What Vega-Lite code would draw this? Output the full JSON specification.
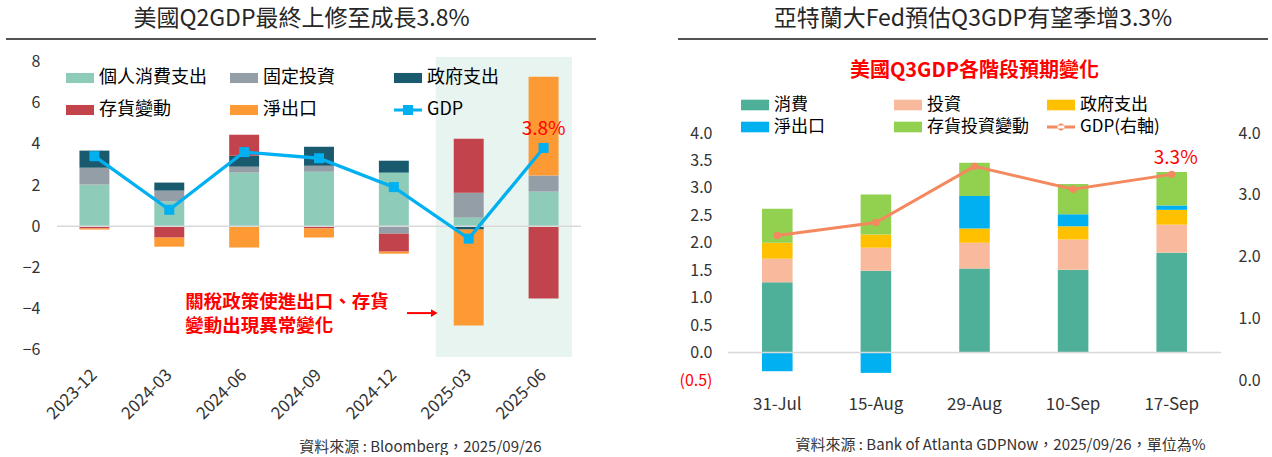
{
  "$schema": "https://vega.github.io/schema/vega-lite/v6.json",
  "background": "white",
  "padding": {"left": 5, "top": 8, "right": 0, "bottom": 0},
  "datasets": {
    "L": [
      {"q": "2023-12", "k": "個人消費支出", "v": 2.02}, {"q": "2023-12", "k": "固定投資", "v": 0.82}, {"q": "2023-12", "k": "政府支出", "v": 0.83}, {"q": "2023-12", "k": "存貨變動", "v": -0.11}, {"q": "2023-12", "k": "淨出口", "v": -0.05},
      {"q": "2024-03", "k": "個人消費支出", "v": 1.2}, {"q": "2024-03", "k": "固定投資", "v": 0.53}, {"q": "2024-03", "k": "政府支出", "v": 0.39}, {"q": "2024-03", "k": "存貨變動", "v": -0.55}, {"q": "2024-03", "k": "淨出口", "v": -0.44},
      {"q": "2024-06", "k": "個人消費支出", "v": 2.6}, {"q": "2024-06", "k": "固定投資", "v": 0.29}, {"q": "2024-06", "k": "政府支出", "v": 0.53}, {"q": "2024-06", "k": "存貨變動", "v": 1.02}, {"q": "2024-06", "k": "淨出口", "v": -1.03},
      {"q": "2024-09", "k": "個人消費支出", "v": 2.65}, {"q": "2024-09", "k": "固定投資", "v": 0.29}, {"q": "2024-09", "k": "政府支出", "v": 0.92}, {"q": "2024-09", "k": "存貨變動", "v": -0.11}, {"q": "2024-09", "k": "淨出口", "v": -0.44},
      {"q": "2024-12", "k": "個人消費支出", "v": 2.6}, {"q": "2024-12", "k": "固定投資", "v": -0.36}, {"q": "2024-12", "k": "政府支出", "v": 0.58}, {"q": "2024-12", "k": "存貨變動", "v": -0.87}, {"q": "2024-12", "k": "淨出口", "v": -0.1},
      {"q": "2025-03", "k": "個人消費支出", "v": 0.42}, {"q": "2025-03", "k": "固定投資", "v": 1.21}, {"q": "2025-03", "k": "政府支出", "v": -0.16}, {"q": "2025-03", "k": "存貨變動", "v": 2.62}, {"q": "2025-03", "k": "淨出口", "v": -4.65},
      {"q": "2025-06", "k": "個人消費支出", "v": 1.68}, {"q": "2025-06", "k": "固定投資", "v": 0.78}, {"q": "2025-06", "k": "政府支出", "v": 0.0}, {"q": "2025-06", "k": "存貨變動", "v": -3.5}, {"q": "2025-06", "k": "淨出口", "v": 4.79}
    ],
    "Lg": [
      {"q": "2023-12", "GDP": 3.4}, {"q": "2024-03", "GDP": 0.8}, {"q": "2024-06", "GDP": 3.6}, {"q": "2024-09", "GDP": 3.3},
      {"q": "2024-12", "GDP": 1.9}, {"q": "2025-03", "GDP": -0.6}, {"q": "2025-06", "GDP": 3.8}
    ],
    "R": [
      {"d": "31-Jul", "k": "消費", "v": 1.28}, {"d": "31-Jul", "k": "投資", "v": 0.43}, {"d": "31-Jul", "k": "政府支出", "v": 0.29}, {"d": "31-Jul", "k": "淨出口", "v": -0.34}, {"d": "31-Jul", "k": "存貨投資變動", "v": 0.62},
      {"d": "15-Aug", "k": "消費", "v": 1.49}, {"d": "15-Aug", "k": "投資", "v": 0.42}, {"d": "15-Aug", "k": "政府支出", "v": 0.24}, {"d": "15-Aug", "k": "淨出口", "v": -0.37}, {"d": "15-Aug", "k": "存貨投資變動", "v": 0.73},
      {"d": "29-Aug", "k": "消費", "v": 1.53}, {"d": "29-Aug", "k": "投資", "v": 0.47}, {"d": "29-Aug", "k": "政府支出", "v": 0.26}, {"d": "29-Aug", "k": "淨出口", "v": 0.59}, {"d": "29-Aug", "k": "存貨投資變動", "v": 0.61},
      {"d": "10-Sep", "k": "消費", "v": 1.51}, {"d": "10-Sep", "k": "投資", "v": 0.55}, {"d": "10-Sep", "k": "政府支出", "v": 0.24}, {"d": "10-Sep", "k": "淨出口", "v": 0.22}, {"d": "10-Sep", "k": "存貨投資變動", "v": 0.55},
      {"d": "17-Sep", "k": "消費", "v": 1.82}, {"d": "17-Sep", "k": "投資", "v": 0.51}, {"d": "17-Sep", "k": "政府支出", "v": 0.27}, {"d": "17-Sep", "k": "淨出口", "v": 0.08}, {"d": "17-Sep", "k": "存貨投資變動", "v": 0.61}
    ],
    "Rg": [
      {"d": "31-Jul", "GDP": 2.34}, {"d": "15-Aug", "GDP": 2.55}, {"d": "29-Aug", "GDP": 3.46}, {"d": "10-Sep", "GDP": 3.09}, {"d": "17-Sep", "GDP": 3.33}
    ]
  },
  "resolve": {"scale": {"color": "independent"}, "legend": {"color": "independent"}},
  "hconcat": [
    {
      "spacing": 13,
      "vconcat": [
        {
          "width": 539,
          "height": 1,
          "title": {"text": "美國Q2GDP最終上修至成長3.8%", "fontSize": 23, "fontWeight": "normal", "color": "#262626", "offset": 7, "dx": -25},
          "data": {"values": [{}]},
          "mark": {"type": "rule", "color": "#1a1a1a", "strokeWidth": 1.3},
          "encoding": {
            "x": {"datum": -51, "scale": {"domain": [0, 539], "nice": false}, "axis": null},
            "x2": {"datum": 539},
            "y": {"datum": 1, "scale": {"domain": [0, 1]}, "axis": null}
          }
        },
        {
          "width": 524,
          "height": 300,
          "layer": [
            {
              "data": {"values": [{}]},
              "mark": {"type": "rect", "color": "#e8f4ef"},
              "encoding": {
                "x": {"datum": "2025-03", "bandPosition": -0.6},
                "x2": {"datum": "2025-06", "bandPosition": 1.45},
                "y": {"datum": 8.21},
                "y2": {"datum": -6.34}
              }
            },
            {
              "data": {"name": "L"},
              "transform": [{"calculate": "indexof(['個人消費支出','固定投資','政府支出','存貨變動','淨出口'], datum.k)", "as": "o"}],
              "mark": {"type": "bar"},
              "encoding": {
                "x": {
                  "field": "q", "type": "nominal",
                  "scale": {"type": "band", "domain": ["2023-12", "2024-03", "2024-06", "2024-09", "2024-12", "2025-03", "2025-06"], "paddingInner": 0.6, "paddingOuter": 0.3},
                  "axis": {
                    "title": "資料來源 : Bloomberg，2025/09/26", "labelAngle": -45, "labelAlign": "right", "labelBaseline": "middle",
                    "labelPadding": 15, "labelFontSize": 17, "labelColor": "#333",
                    "titleFontSize": 15, "titleFontWeight": "normal", "titleColor": "#333", "titleAlign": "right", "titleX": 484, "titlePadding": 18
                  }
                },
                "y": {
                  "field": "v", "type": "quantitative", "stack": "zero",
                  "scale": {"domain": [-6.34, 8.21], "nice": false, "zero": false},
                  "axis": {"title": null, "values": [-6, -4, -2, 0, 2, 4, 6, 8], "labelFontSize": 16, "labelColor": "#333", "labelPadding": 17, "minExtent": 51, "labelOverlap": false}
                },
                "order": {"field": "o", "type": "quantitative"},
                "color": {
                  "field": "k", "type": "nominal",
                  "scale": {
                    "domain": ["個人消費支出", "固定投資", "政府支出", "存貨變動", "淨出口", "GDP"],
                    "range": ["#8ecbb9", "#949ea6", "#1a5a6e", "#c3434c", "#fe9a33", "#00b0f0"]
                  },
                  "legend": {
                    "orient": "none", "legendX": 9, "legendY": 25, "title": null, "columns": 3, "direction": "horizontal",
                    "gridAlign": "all", "columnPadding": 23, "rowPadding": 9, "padding": 0,
                    "symbolType": "M-1,-0.36H1V0.36H-1Z", "symbolSize": 784, "symbolStrokeWidth": 0, "symbolOpacity": 1,
                    "labelFontSize": 18, "labelColor": "#000", "labelOffset": 5, "labelLimit": 300,
                    "encode": {"symbols": {"update": {"shape": [
                      {"test": "datum.value === 'GDP'", "value": "M-1,-0.1H1V0.1H-1Z M-0.36,-0.36H0.36V0.36H-0.36Z"},
                      {"value": "M-1,-0.36H1V0.36H-1Z"}
                    ]}}}
                  }
                }
              }
            },
            {
              "data": {"values": [{}]},
              "mark": {"type": "rule", "color": "#d9d9d9", "strokeWidth": 1.5},
              "encoding": {"y": {"datum": 0}}
            },
            {
              "data": {"name": "Lg"},
              "mark": {"type": "line", "strokeWidth": 3.3, "point": {"shape": "square", "size": 100, "filled": true, "opacity": 1}},
              "encoding": {
                "x": {"field": "q", "type": "nominal"},
                "y": {"field": "GDP", "type": "quantitative"},
                "color": {"datum": "GDP"}
              }
            },
            {
              "data": {"name": "Lg"},
              "transform": [{"filter": "datum.q === '2025-06'"}, {"calculate": "format(datum.GDP, '.1f') + '%'", "as": "lab"}],
              "mark": {"type": "text", "color": "#ff0000", "fontSize": 19, "dy": -19},
              "encoding": {
                "x": {"field": "q", "type": "nominal"},
                "y": {"field": "GDP", "type": "quantitative"},
                "text": {"field": "lab"}
              }
            },
            {
              "data": {"values": [{}]},
              "mark": {"type": "text", "text": ["關稅政策使進出口、存貨", "變動出現異常變化"], "color": "#ff0000", "fontSize": 18.5, "fontWeight": "bold", "align": "left", "baseline": "middle", "lineHeight": 24.5},
              "encoding": {
                "x": {"datum": "2024-03", "bandPosition": 1.03},
                "y": {"datum": -3.66}
              }
            },
            {
              "data": {"values": [{}]},
              "mark": {"type": "rule", "color": "#ff0000", "strokeWidth": 2},
              "encoding": {
                "x": {"datum": "2024-12", "bandPosition": 0.94},
                "x2": {"datum": "2025-03", "bandPosition": -0.75},
                "y": {"datum": -4.21}
              }
            },
            {
              "data": {"values": [{}]},
              "mark": {"type": "point", "shape": "triangle-right", "filled": true, "color": "#ff0000", "size": 60, "opacity": 1},
              "encoding": {
                "x": {"datum": "2025-03", "bandPosition": -0.65},
                "y": {"datum": -4.21}
              }
            }
          ]
        }
      ]
    },
    {
      "spacing": 21,
      "vconcat": [
        {
          "width": 540,
          "height": 1,
          "title": {"text": "亞特蘭大Fed預估Q3GDP有望季增3.3%", "fontSize": 23, "fontWeight": "normal", "color": "#262626", "offset": 7, "dx": -25},
          "data": {"values": [{}]},
          "mark": {"type": "rule", "color": "#1a1a1a", "strokeWidth": 1.3},
          "encoding": {
            "x": {"datum": -50, "scale": {"domain": [0, 540], "nice": false}, "axis": null},
            "x2": {"datum": 540},
            "y": {"datum": 1, "scale": {"domain": [0, 1]}, "axis": null}
          }
        },
        {
          "width": 493,
          "height": 247,
          "title": {"text": "美國Q3GDP各階段預期變化", "fontSize": 20, "fontWeight": "bold", "color": "#ff0000", "offset": 44},
          "layer": [
            {
              "layer": [
                {
                  "data": {"name": "R"},
                  "transform": [{"calculate": "indexof(['消費','投資','政府支出','淨出口','存貨投資變動'], datum.k)", "as": "o"}],
                  "mark": {"type": "bar"},
                  "encoding": {
                    "x": {
                      "field": "d", "type": "nominal",
                      "scale": {"type": "band", "domain": ["31-Jul", "15-Aug", "29-Aug", "10-Sep", "17-Sep"], "paddingInner": 0.69, "paddingOuter": 0.345},
                      "axis": {
                        "title": "資料來源 : Bank of Atlanta GDPNow，2025/09/26，單位為%", "labelAngle": 0, "labelPadding": 16, "labelFontSize": 17, "labelColor": "#333",
                        "titleFontSize": 15, "titleFontWeight": "normal", "titleColor": "#333", "titleAlign": "right", "titleX": 477, "titlePadding": 25
                      }
                    },
                    "y": {
                      "field": "v", "type": "quantitative", "stack": "zero",
                      "scale": {"domain": [-0.5, 4], "nice": false, "zero": false},
                      "axis": {
                        "title": null, "tickCount": 10, "labelOverlap": false, "labelFlush": false,
                        "labelExpr": "datum.value < 0 ? '(' + format(-datum.value, '.1f') + ')' : format(datum.value, '.1f')",
                        "labelColor": {"condition": {"test": "datum.value < 0", "value": "#ff0000"}, "value": "#333"},
                        "labelFontSize": 16, "labelPadding": 16, "minExtent": 50
                      }
                    },
                    "order": {"field": "o", "type": "quantitative"},
                    "color": {
                      "field": "k", "type": "nominal",
                      "scale": {
                        "domain": ["消費", "投資", "政府支出", "淨出口", "存貨投資變動", "GDP(右軸)"],
                        "range": ["#4fb09a", "#f8b99d", "#ffc000", "#00b0f0", "#92d050", "#f4895f"]
                      },
                      "legend": {
                        "orient": "none", "legendX": 13, "legendY": 52, "title": null, "columns": 3, "direction": "horizontal",
                        "gridAlign": "all", "columnPadding": 18, "rowPadding": -1, "padding": 0,
                        "symbolType": "M-1,-0.38H1V0.38H-1Z", "symbolSize": 784, "symbolStrokeWidth": 0, "symbolOpacity": 1,
                        "labelFontSize": 17, "labelColor": "#000", "labelOffset": 5, "labelLimit": 300,
                        "encode": {"symbols": {"update": {"shape": [
                          {"test": "datum.value === 'GDP(右軸)'", "value": "M-1,-0.1H1V0.1H-1Z M-0.25,0A0.25,0.25 0 1,0 0.25,0A0.25,0.25 0 1,0 -0.25,0Z"},
                          {"value": "M-1,-0.38H1V0.38H-1Z"}
                        ]}}}
                      }
                    }
                  }
                },
                {
                  "data": {"values": [{}]},
                  "mark": {"type": "rule", "color": "#d9d9d9", "strokeWidth": 1.5},
                  "encoding": {"y": {"datum": 0}}
                }
              ]
            },
            {
              "layer": [
                {
                  "data": {"name": "Rg"},
                  "mark": {"type": "line", "strokeWidth": 3, "point": {"shape": "circle", "size": 55, "filled": true, "opacity": 1}},
                  "encoding": {
                    "x": {"field": "d", "type": "nominal"},
                    "y": {
                      "field": "GDP", "type": "quantitative",
                      "scale": {"domain": [0, 4], "nice": false},
                      "axis": {"orient": "right", "title": null, "values": [0, 1, 2, 3, 4], "format": ".1f", "labelFontSize": 16, "labelColor": "#333", "labelPadding": 17, "labelOverlap": false}
                    },
                    "color": {"datum": "GDP(右軸)"}
                  }
                },
                {
                  "data": {"name": "Rg"},
                  "transform": [{"filter": "datum.d === '17-Sep'"}, {"calculate": "format(datum.GDP, '.1f') + '%'", "as": "lab"}],
                  "mark": {"type": "text", "color": "#ff0000", "fontSize": 19, "dy": -16, "dx": 4},
                  "encoding": {
                    "x": {"field": "d", "type": "nominal"},
                    "y": {"field": "GDP", "type": "quantitative"},
                    "text": {"field": "lab"}
                  }
                }
              ]
            }
          ],
          "resolve": {"scale": {"y": "independent"}}
        }
      ]
    }
  ],
  "spacing": 80,
  "config": {
    "font": "Noto Sans CJK TC",
    "view": {"stroke": null},
    "axis": {"grid": false, "domain": false, "ticks": false, "labelOverlap": false, "labelFont": "Noto Sans CJK TC", "titleFont": "Noto Sans CJK TC"},
    "legend": {"labelFont": "Noto Sans CJK TC"},
    "title": {"font": "Noto Sans CJK TC"},
    "text": {"font": "Noto Sans CJK TC"}
  }
}
